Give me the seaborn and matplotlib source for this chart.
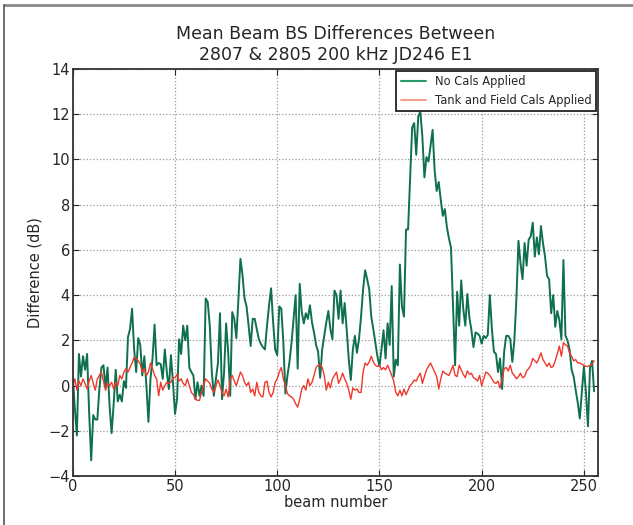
import numpy as np
import pandas as pd
import seaborn as sns
from matplotlib import pyplot as plt
from matplotlib.lines import Line2D

# mean beam BS differences (beam 0..255)
no_cals = [
    0.4, -1.0, -2.2, 1.4, 0.4, 1.3, 0.7, 1.4, -1.2, -3.3,
    -1.3, -1.5, -1.5, -0.15, 0.8, 0.9, -0.1, 0.8, -0.9, -2.1,
    -0.8, 0.7, -0.7, -0.4, -0.7, 0.2, -0.1, 2.15, 2.5, 3.4,
    1.6, 0.6, 2.1, 1.8, 0.45, 1.3, 0.0, -1.6, 0.3, 1.2,
    2.7, 0.9, 1.0, 0.95, 0.3, 1.6, 0.6, -0.15, 1.35, 0.15,
    -1.25, -0.6, 2.05, 1.4, 2.65, 2.0, 2.65, 0.8, 0.6, 0.45,
    -0.6, 0.15, -0.45, 0.0, -0.45, 3.85, 3.7, 2.65, 0.6, -0.45,
    0.3, 1.0, 3.2, -0.6, 0.6, 2.75, 1.5, -0.45, 3.25, 2.95,
    2.1, 3.8, 5.6, 4.9, 3.85, 3.5, 2.65, 1.75, 2.95, 2.95,
    2.5, 2.05, 1.85, 1.7, 1.6, 2.65, 3.55, 4.3, 2.8, 1.6,
    1.35, 3.5, 3.4, 1.9, -0.35, 0.45, 1.05, 1.9, 2.95, 4.0,
    0.75, 4.5, 3.25, 2.75, 3.2, 2.95, 3.55, 2.8, 2.35, 1.8,
    1.5, 0.35, 1.6, 2.2, 2.8, 3.3, 2.5, 2.05, 4.2, 4.0,
    2.95, 4.2, 2.75, 3.65, 2.45, 1.15, 0.25, 1.6, 2.2, 1.45,
    2.05, 3.05, 4.25, 5.1, 4.7, 4.25, 3.05, 2.5, 1.9, 1.3,
    0.85, 1.6, 2.45, 1.2, 2.75, 1.8, 4.4, 0.4, 1.15, 0.9,
    5.35, 3.5, 3.05, 6.9, 6.9, 9.1, 11.4, 11.6, 10.2, 11.9,
    12.1, 11.0, 9.2, 10.1, 9.9, 10.6, 11.3, 9.5, 8.6, 9.0,
    8.2, 7.5, 7.8, 7.0, 6.5, 6.1, 3.5, 0.9, 4.15, 2.65,
    4.65, 3.4, 2.65, 4.05, 3.0, 2.45, 1.7, 2.35, 2.3, 2.2,
    1.85, 2.2, 2.1, 2.25, 4.0, 2.5, 1.5, 1.4, 0.6, 1.2,
    -0.15, 1.5, 2.2, 2.2, 2.05, 1.05, 2.0, 3.85, 6.4, 5.4,
    4.7, 6.3, 5.3, 6.45, 6.6, 7.2, 5.7, 6.55, 5.8, 7.05,
    6.3, 5.7, 4.85, 4.7, 3.2, 4.0, 2.6, 3.3, 2.9, 2.05,
    5.55, 2.2, 2.0, 1.6, 0.7, 0.4, -0.2, -0.75, -1.45, -0.3,
    0.85, -0.3, -1.8, 0.8, 1.1, -0.25,
]

tank_field = [
    0.0, 0.3, -0.2, 0.2, 0.0, 0.3, 0.1, -0.15, 0.2, 0.45,
    0.1, -0.2, 0.3, 0.45, 0.6, 0.2, -0.2, 0.1, 0.0, 0.15,
    -0.15, 0.15, 0.0, 0.45, 0.3, 0.6, 0.75, 0.6, 0.8, 1.0,
    1.25, 1.2, 1.1, 0.95, 0.6, 0.75, 0.45, 0.6, 1.0, 0.75,
    0.45, 0.3, -0.45, 0.15, -0.2, 0.0, 0.15, 0.1, 0.15, 0.35,
    0.35, 0.5, 0.2, 0.3, 0.1, 0.0, 0.3, 0.0, -0.3, -0.4,
    -0.6, -0.65, -0.65, -0.3, 0.0, 0.3, 0.2, 0.1, -0.15, -0.3,
    0.0, 0.25, 0.0, -0.3, -0.45, -0.15, -0.5, 0.3, 0.45, 0.2,
    0.0, 0.3, 0.6, 0.45, 0.15, 0.0, 0.15, -0.3, -0.15, -0.45,
    0.15, -0.3, -0.45, -0.5, 0.15, 0.2, -0.3, -0.5, -0.3, 0.15,
    0.3, 0.6, 0.8, 0.3, 0.0, -0.35, -0.45, -0.5, -0.6, -0.8,
    -0.95, -0.6, -0.15, 0.0, -0.2, 0.3, 0.0, 0.15, 0.45, 0.8,
    0.9, 0.95, 0.8, 0.45, -0.2, 0.15, -0.1, 0.3, 0.45, 0.6,
    0.1, 0.3, 0.55, 0.3, 0.1, -0.2, -0.6, -0.1, -0.2, -0.15,
    -0.3, -0.3, 0.6, 1.0, 0.9, 1.05, 1.3, 1.05, 0.9, 0.85,
    0.9, 0.7, 0.8, 0.7, 0.9, 0.7, 0.45, 0.2, -0.3, -0.45,
    -0.2, -0.45, -0.15, -0.4, -0.2, 0.0, 0.1, 0.25, 0.2, 0.4,
    0.55, 0.1, 0.4, 0.7, 0.85, 1.0, 0.8, 0.6, 0.4, -0.15,
    0.3, 0.65, 0.55, 0.5, 0.45, 0.65, 0.9, 0.45, 0.4, 0.9,
    0.7, 0.5, 0.35, 0.65, 0.5, 0.55, 0.35, 0.3, 0.2, 0.45,
    0.0, 0.3, 0.6, 0.55, 0.45, 0.3, 0.15, 0.1, 0.2, -0.1,
    0.3, 0.75, 0.8, 0.65, 0.9, 0.55, 0.45, 0.3, 0.4, 0.55,
    0.35, 0.4, 0.65, 0.75, 0.9, 1.2, 1.1, 1.0, 1.2, 1.45,
    1.15, 1.0, 0.85, 1.0, 0.8, 0.85, 1.1, 1.4, 1.75, 1.3,
    1.9, 1.8, 1.75, 1.45, 1.3, 1.1, 1.15, 1.0, 1.0, 0.95,
    0.9, 0.85, 0.85, 0.9, 0.95, 1.1,
]

labels = ['No Cals Applied', 'Tank and Field Cals Applied']
colors = ['#0f7050', '#f0382c']

beams = np.arange(len(no_cals))
df = pd.concat([
    pd.DataFrame({'beam': beams, 'diff': no_cals, 'type': labels[0]}),
    pd.DataFrame({'beam': beams, 'diff': tank_field, 'type': labels[1]}),
])

sns.set_style('ticks')
plt.rcParams['font.family'] = ['DejaVu Sans']
plt.rcParams['xtick.direction'] = 'in'
plt.rcParams['ytick.direction'] = 'in'

fig = plt.figure(figsize=(6.33, 5.25), dpi=100)
ax = fig.add_axes([0.115, 0.093, 0.83, 0.776])

sns.lineplot(data=df, x='beam', y='diff', hue='type', palette=colors, ax=ax,
             legend=False, estimator=None, sort=False)
ax.lines[0].set_linewidth(1.4)
ax.lines[1].set_linewidth(1.0)

ax.set_xlim(0, 257)
ax.set_ylim(-4, 14)
ax.set_xticks([0, 50, 100, 150, 200, 250])
ax.set_yticks(range(-4, 15, 2))
ax.tick_params(top=True, right=True, length=4, width=0.8, labelsize=10.5, pad=2)
ax.grid(True, linestyle=':', color='#9a9a9a', linewidth=0.9)
for s in ax.spines.values():
    s.set_linewidth(1.3)
    s.set_color('#333333')

ax.set_xlabel('beam number', fontsize=10.5, labelpad=1)
ax.set_ylabel('Difference (dB)', fontsize=10.5)
ax.set_title('Mean Beam BS Differences Between\n2807 & 2805 200 kHz JD246 E1',
             fontsize=12.5, pad=6, linespacing=1.25)

handles = [Line2D([], [], color='#2a9a6a', lw=1.5), Line2D([], [], color='#f4a090', lw=1.5)]
leg = ax.legend(handles, labels, loc='upper right', fontsize=8.3, fancybox=False,
                framealpha=1, edgecolor='#222222', borderaxespad=0.15, handlelength=2.2)
leg.get_frame().set_linewidth(1.3)

# page frame around the figure
fig.add_artist(Line2D([0.006, 1.0], [0.99, 0.99], color='#888888', lw=2, transform=fig.transFigure))
fig.add_artist(Line2D([0.006, 0.006], [0.0, 0.99], color='#555555', lw=1.2, transform=fig.transFigure))

fig.savefig('out.png', dpi=100)
